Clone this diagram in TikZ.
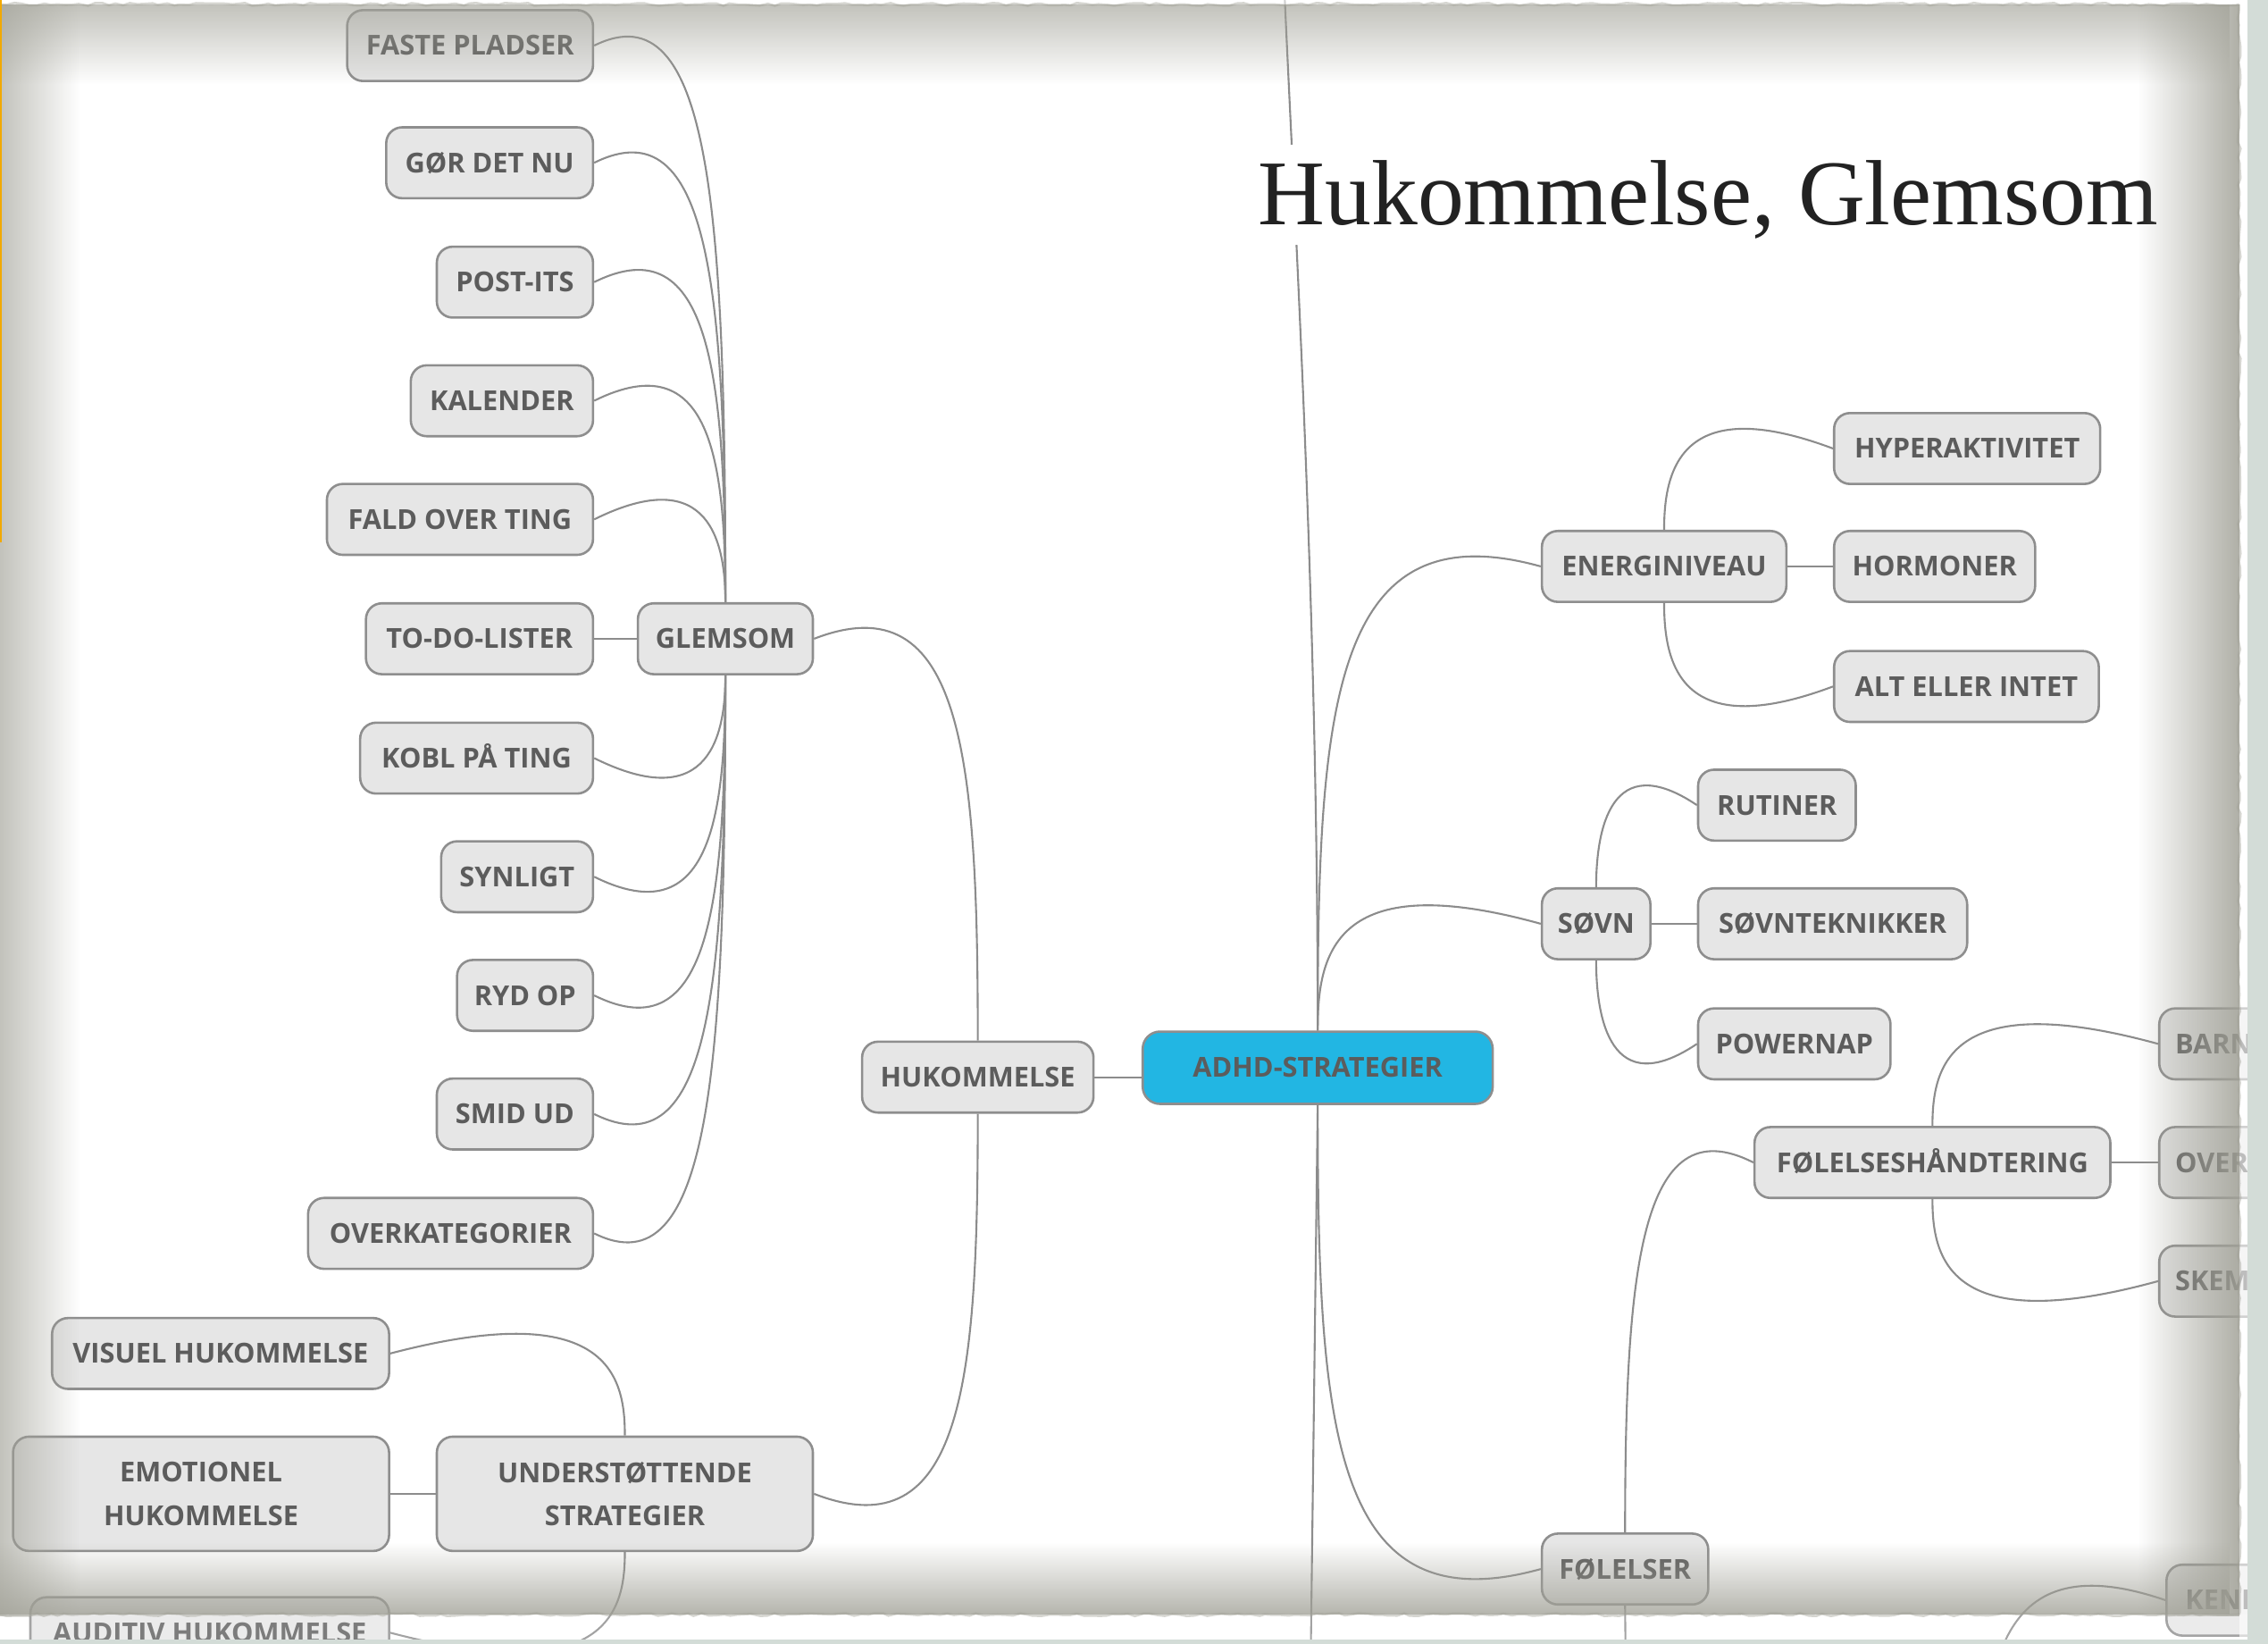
\documentclass[tikz,border=0pt]{standalone}
\usepackage{fontspec}
\setmainfont{Liberation Serif}
\newfontfamily\topicfont{Open Sans}
\usetikzlibrary{calc,fadings,decorations.pathmorphing}

\definecolor{nodefill}{HTML}{E6E6E6}
\definecolor{nodeline}{HTML}{8E8E8E}
\definecolor{nodetext}{HTML}{5C5C5C}
\definecolor{connline}{HTML}{8C8C8C}
\definecolor{rootfill}{HTML}{22B6E3}
\definecolor{paperedge}{HTML}{A2A298}
\definecolor{sidestrip}{HTML}{D3DCD7}
\definecolor{tabline}{HTML}{F2A900}
\definecolor{titletext}{HTML}{222222}

\tikzfading[name=fadedown, top color=transparent!0, bottom color=transparent!100]
\tikzfading[name=fadeup, top color=transparent!100, bottom color=transparent!0]
\tikzfading[name=faderight, left color=transparent!0, right color=transparent!100]
\tikzfading[name=fadeleft, left color=transparent!100, right color=transparent!0]

\tikzset{
  topic/.style={draw=nodeline, line width=1.6pt, fill=nodefill, rounded corners=11pt,
    minimum height=49pt, inner sep=0pt, text=nodetext, align=center,
    font=\topicfont\bfseries\fontsize{19}{30}\selectfont},
  oneline/.style={topic, text height=13.5pt, text depth=0pt},
  root/.style={oneline, fill=rootfill, minimum height=50pt, rounded corners=12pt},
  stub/.style={oneline, anchor=west, inner xsep=11pt, text width=110pt, align=left},
  conn/.style={draw=connline, line width=1.3pt},
  tornedge/.style={draw=paperedge, line width=1.6pt, draw opacity=0.45,
    decorate, decoration={random steps, segment length=5pt, amplitude=1pt}},
}

% curved branch: leaves the parent vertically, overshoots and meets the child's side
\newcommand\branch[2]{%
  \draw[conn] let \p1=(#1), \p2=(#2), \n1={sign(\x2-\x1)}, \n2={sign(\y2-\y1)} in
    (\p1) .. controls (\x1,{\y2+0.3*(\y1-\y2)}) and ({\x1+(\n1)*10pt},{\y2+(\n2)*40pt}) .. (\p2);}

\begin{document}
\begin{tikzpicture}[x=1pt,y=-1pt]
\useasboundingbox (0,0) rectangle (1568,1136);
\fill[white] (0,0) rectangle (1568,1136);

\begin{scope}
\clip (0,0) rectangle (1554,1133);

% ---- left: GLEMSOM and its strategies
\node[oneline, minimum width=170pt] (faste)    at (325,31.5)   {FASTE PLADSER};
\node[oneline, minimum width=143pt] (gor)      at (338.5,112.5){GØR DET NU};
\node[oneline, minimum width=108pt] (postits)  at (356,195)    {POST-ITS};
\node[oneline, minimum width=126pt] (kalender) at (347,277)    {KALENDER};
\node[oneline, minimum width=184pt] (fald)     at (318,359)    {FALD OVER TING};
\node[oneline, minimum width=157pt] (todo)     at (331.5,441.5){TO-DO-LISTER};
\node[oneline, minimum width=161pt] (kobl)     at (329.5,524)  {KOBL PÅ TING};
\node[oneline, minimum width=105pt] (synligt)  at (357.5,606)  {SYNLIGT};
\node[oneline, minimum width=94pt]  (rydop)    at (363,688)    {RYD OP};
\node[oneline, minimum width=108pt] (smid)     at (356,770)    {SMID UD};
\node[oneline, minimum width=197pt] (overkat)  at (311.5,852.5){OVERKATEGORIER};
\node[oneline, minimum width=121pt] (glem)     at (501.5,441.5){GLEMSOM};

% ---- HUKOMMELSE and the root
\node[oneline, minimum width=160pt] (huk)  at (676,744.5) {HUKOMMELSE};
\node[root, minimum width=242pt]    (adhd) at (911,738)   {ADHD-STRATEGIER};

% ---- supporting strategies
\node[topic, minimum width=260pt, minimum height=79pt] (und) at (432,1032.5) {UNDERSTØTTENDE\\STRATEGIER};
\node[oneline, minimum width=233pt] (visuel) at (152.5,935.5) {VISUEL HUKOMMELSE};
\node[topic, minimum width=260pt, minimum height=79pt] (emo) at (139,1032.5) {EMOTIONEL\\HUKOMMELSE};
\node[oneline, minimum width=248pt] (auditiv) at (145,1128.5) {AUDITIV HUKOMMELSE};

% ---- right side
\node[oneline, minimum width=169pt] (energi)   at (1150.5,391.5) {ENERGINIVEAU};
\node[oneline, minimum width=184pt] (hyper)    at (1360,310)     {HYPERAKTIVITET};
\node[oneline, minimum width=139pt] (hormoner) at (1337.5,391.5) {HORMONER};
\node[oneline, minimum width=183pt] (alt)      at (1359.5,474.5) {ALT ELLER INTET};
\node[oneline, minimum width=75pt]  (sovn)     at (1103.5,638.5) {SØVN};
\node[oneline, minimum width=109pt] (rutiner)  at (1228.5,556.5) {RUTINER};
\node[oneline, minimum width=186pt] (sovntek)  at (1267,638.5)   {SØVNTEKNIKKER};
\node[oneline, minimum width=133pt] (powernap) at (1240.5,721.5) {POWERNAP};
\node[oneline, minimum width=246pt] (folh)     at (1336,803.5)   {FØLELSESHÅNDTERING};
\node[stub] (barn) at (1492,721.5) {BARN};
\node[stub] (over) at (1492,803.5) {OVER};
\node[stub] (skem) at (1492,885.5) {SKEM};
\node[stub, inner xsep=13pt] (kend) at (1497,1106) {KEND};
\node[oneline, minimum width=115pt] (fol) at (1123.5,1084.5) {FØLELSER};

% ---- branch ends running off the sheet
\coordinate (above)    at (887,-30);
\coordinate (below)    at (906,1160);
\coordinate (folbelow) at (1124,1160);
\coordinate (kendroot) at (1370,1260);

% ---- connectors
\foreach \c in {faste,gor,postits,kalender,fald}{\branch{glem.north}{\c.east}}
\foreach \c in {kobl,synligt,rydop,smid,overkat}{\branch{glem.south}{\c.east}}
\draw[conn] (glem.west) -- (todo.east);

\branch{huk.north}{glem.east}
\branch{huk.south}{und.east}
\draw[conn] (huk.east) -- (huk.east -| adhd.west);

\branch{und.north}{visuel.east}
\branch{und.south}{auditiv.east}
\draw[conn] (und.west) -- (emo.east);

\branch{adhd.north}{energi.west}
\branch{adhd.north}{sovn.west}
\branch{adhd.south}{fol.west}
\draw[conn] (adhd.north) .. controls (911,400) and (893,120) .. (above);
\draw[conn] (adhd.south) -- (below);

\branch{energi.north}{hyper.west}
\branch{energi.south}{alt.west}
\draw[conn] (energi.east) -- (hormoner.west);

\branch{sovn.north}{rutiner.west}
\branch{sovn.south}{powernap.west}
\draw[conn] (sovn.east) -- (sovntek.west);

\branch{fol.north}{folh.west}
\draw[conn] (fol.south) -- (folbelow);
\branch{folh.north}{barn.west}
\branch{folh.south}{skem.west}
\draw[conn] (folh.east) -- (over.west);
\branch{kendroot}{kend.west}

% ---- title on its white plate
\node[fill=white, inner sep=0pt, anchor=base, minimum width=630pt,
      text height=55.5pt, text depth=13.5pt, text=titletext,
      font=\fontsize{64}{70}\selectfont] (title) at (1181,155.5) {Hukommelse, Glemsom};

% ---- paper frame shadows
\fill[paperedge, path fading=fadedown, fill opacity=0.65]  (0,3) rectangle (1548,58);
\fill[paperedge, path fading=faderight, fill opacity=0.65] (0,0) rectangle (55,1116);
\fill[paperedge, path fading=fadeleft, fill opacity=0.85]  (1478,0) rectangle (1548,1116);
\fill[paperedge, path fading=fadeup, fill opacity=0.8]     (0,1066) rectangle (1548,1116);
\fill[white, fill opacity=0.2] (0,1116) rectangle (1554,1133);
\fill[white, fill opacity=0.6] (1548,0) rectangle (1554,1133);
\fill[white, fill opacity=0.6] (0,0) rectangle (1548,3);

% ---- torn paper edges
\draw[tornedge] (0,3) -- (1548,3);
\draw[tornedge] (1548,3) -- (1548,1116);
\draw[tornedge] (0,1116) -- (1548,1116);
\end{scope}

% ---- sheet surroundings
\fill[sidestrip] (1554,0) rectangle (1568,1136);
\fill[sidestrip] (0,1133) rectangle (1568,1136);
\fill[tabline] (0,0) rectangle (1.5,375);
\end{tikzpicture}
\end{document}
